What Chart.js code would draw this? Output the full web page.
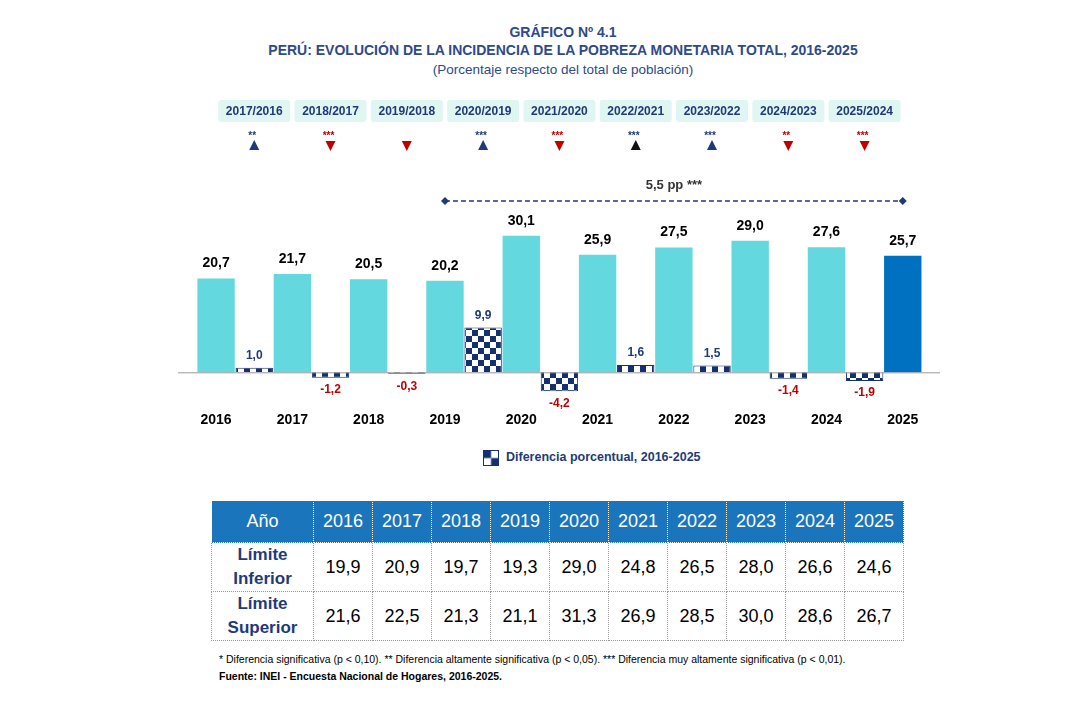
<!DOCTYPE html>
<html><head><meta charset="utf-8">
<script src="https://cdn.jsdelivr.net/npm/chart.js@4"></script>
<style>
body{margin:0;width:1076px;height:702px;background:#fff;position:relative;font-family:"Liberation Sans",Arial,sans-serif;overflow:hidden}
.t{position:absolute;left:0;width:1126px;text-align:center;color:#2E4A8A}
#c{position:absolute;left:160px;top:90px}
table{position:absolute;left:211px;top:500px;border-collapse:collapse;font-family:"Liberation Sans Narrow","Liberation Sans",sans-serif}
td,th{border:1px dotted #999;text-align:center;font-size:18px;width:58px;padding:0}
th{background:#1B75BC;color:#fff;font-weight:normal;height:41px;border-color:#fff}
td{height:48px;color:#000}
td.h{width:101px;color:#1F3A7A;font-weight:bold;font-size:17px;line-height:24px}
.f{position:absolute;left:219px;font-size:10.5px;color:#000}
</style></head><body>
<div class="t" style="top:24px;font-size:14px;font-weight:bold;font-family:'Liberation Sans Narrow','Liberation Sans'">GRÁFICO Nº 4.1</div>
<div class="t" style="top:42px;font-size:14px;font-weight:bold;font-family:'Liberation Sans Narrow','Liberation Sans'">PERÚ: EVOLUCIÓN DE LA INCIDENCIA DE LA POBREZA MONETARIA TOTAL, 2016-2025</div>
<div class="t" style="top:62px;font-size:13.5px;font-family:'Liberation Sans Narrow','Liberation Sans'">(Porcentaje respecto del total de población)</div>
<canvas id="c" width="820" height="350" style="width:820px;height:350px"></canvas>
<div style="position:absolute;left:483px;top:450px;width:16px;height:16px" id="lg"></div>
<div style="position:absolute;left:506px;top:450px;font-size:12.5px;font-weight:bold;color:#1F3A7A;font-family:'Liberation Sans Narrow','Liberation Sans'">Diferencia porcentual, 2016-2025</div>
<table id="tb"></table>
<div class="f" style="top:653px">* Diferencia significativa (p &lt; 0,10). ** Diferencia altamente significativa (p &lt; 0,05). *** Diferencia muy altamente significativa (p &lt; 0,01).</div>
<div class="f" style="top:670px;font-weight:bold">Fuente: INEI - Encuesta Nacional de Hogares, 2016-2025.</div>
<script>
const years=["2016","2017","2018","2019","2020","2021","2022","2023","2024","2025"];
const poverty=[20.7,21.7,20.5,20.2,30.1,25.9,27.5,29.0,27.6,25.7];
const diffs=[1.0,-1.2,-0.3,9.9,-4.2,1.6,1.5,-1.4,-1.9,null];
const compLabels=["2017/2016","2018/2017","2019/2018","2020/2019","2021/2020","2022/2021","2023/2022","2024/2023","2025/2024"];
const compStars=["**","***","","***","***","***","***","**","***"];
const compDir=["up","down","down","up","down","up","up","down","down"];
const lowerLim=[19.9,20.9,19.7,19.3,29.0,24.8,26.5,28.0,26.6,24.6];
const upperLim=[21.6,22.5,21.3,21.1,31.3,26.9,28.5,30.0,28.6,26.7];
const navy="#1F3A7A",red="#C00000";
const fmt=v=>v.toFixed(1).replace('.',',');
function pat(s){const p=document.createElement('canvas');p.width=p.height=s*2;const g=p.getContext('2d');g.fillStyle='#fff';g.fillRect(0,0,s*2,s*2);g.fillStyle='#14306E';g.fillRect(0,0,s,s);g.fillRect(s,s,s,s);return p;}
const lg=document.getElementById('lg');lg.appendChild(pat(4));lg.firstChild.style.cssText='width:16px;height:16px;border:1px solid #14306E;box-sizing:border-box;background:url('+pat(4).toDataURL()+')';
const ctx0=document.getElementById('c').getContext('2d');
const chk=ctx0.createPattern(pat(6),'repeat');
const NF="'Liberation Sans Narrow','Liberation Sans',sans-serif";
const deco={id:'deco',afterDatasetsDraw(ch){
 const c=ch.ctx,x=ch.scales.x,y=ch.scales.y,m0=ch.getDatasetMeta(0),m1=ch.getDatasetMeta(1);
 const z=y.getPixelForValue(0);
 c.save();c.strokeStyle='#999';c.lineWidth=1;c.beginPath();c.moveTo(18,z+0.5);c.lineTo(780,z+0.5);c.stroke();
 c.textAlign='center';
 years.forEach((yr,i)=>{const b=m0.data[i];
  c.fillStyle='#000';c.font="bold 14px "+NF;c.textBaseline='bottom';c.fillText(fmt(poverty[i]),b.x,b.y-8);
  c.textBaseline='middle';c.font="bold 14px "+NF;c.fillText(yr,b.x,z+48);
  if(diffs[i]!==null){const d=m1.data[i];c.font="bold 12px "+NF;
   if(diffs[i]>0){c.fillStyle=navy;c.textBaseline='bottom';c.fillText(fmt(diffs[i]),d.x,d.y-6);}
   else{c.fillStyle=red;c.textBaseline='top';c.fillText(fmt(diffs[i]),Math.max(d.y,z)+ (diffs[i]>-1?4:6)>0?d.x:d.x,Math.max(d.y,z+2)+6);}}
 });
 compLabels.forEach((l,i)=>{const cx=(m0.data[i].x+m0.data[i+1].x)/2;
  c.fillStyle='#DFF6F3';c.beginPath();c.roundRect(cx-36,10,72,22,3);c.fill();
  c.fillStyle=navy;c.font="bold 12px "+NF;c.textBaseline='middle';c.fillText(l,cx,21.5);
  const up=compDir[i]==='up';c.fillStyle=up?(i===5?'#000':navy):red;
  c.font="bold 10px "+NF;c.fillStyle=up?navy:red;c.fillText(compStars[i],cx-2,46);
  c.fillStyle=up?(i===5?'#111':navy):red;c.beginPath();
  if(up){c.moveTo(cx-5,60);c.lineTo(cx+5,60);c.lineTo(cx,50);}else{c.moveTo(cx-5,51);c.lineTo(cx+5,51);c.lineTo(cx,61);}
  c.fill();});
 const xa=m0.data[3].x,xb=m0.data[9].x,yl=111;
 c.strokeStyle=navy;c.lineWidth=1.5;c.setLineDash([5,3]);c.beginPath();c.moveTo(xa,yl);c.lineTo(xb,yl);c.stroke();c.setLineDash([]);
 c.fillStyle=navy;[xa,xb].forEach(px=>{c.beginPath();c.moveTo(px-4,yl);c.lineTo(px,yl-4);c.lineTo(px+4,yl);c.lineTo(px,yl+4);c.fill();});
 c.font="bold 13px "+NF;c.fillStyle='#333';c.textBaseline='middle';c.fillText('5,5 pp ***',(xa+xb)/2,yl-16);
 c.restore();}};
new Chart(ctx0,{type:'bar',data:{labels:years,datasets:[
 {data:poverty,backgroundColor:poverty.map((v,i)=>i===9?'#0070C0':'#63D8DE'),categoryPercentage:1,barPercentage:0.98},
 {data:diffs,backgroundColor:chk,borderColor:'#14306E',borderWidth:1,categoryPercentage:1,barPercentage:0.98}]},
 options:{responsive:false,animation:false,layout:{padding:{left:37,right:20,top:110,bottom:45}},
 plugins:{legend:{display:false},tooltip:{enabled:false}},
 scales:{x:{display:false},y:{display:false,min:-5,max:38}}},plugins:[deco]});
let h='<tr><th style="width:101px">Año</th>'+years.map(y=>'<th>'+y+'</th>').join('')+'</tr>';
h+='<tr><td class="h">Límite<br>Inferior</td>'+lowerLim.map(v=>'<td>'+fmt(v)+'</td>').join('')+'</tr>';
h+='<tr><td class="h">Límite<br>Superior</td>'+upperLim.map(v=>'<td>'+fmt(v)+'</td>').join('')+'</tr>';
document.getElementById('tb').innerHTML=h;
</script></body></html>
